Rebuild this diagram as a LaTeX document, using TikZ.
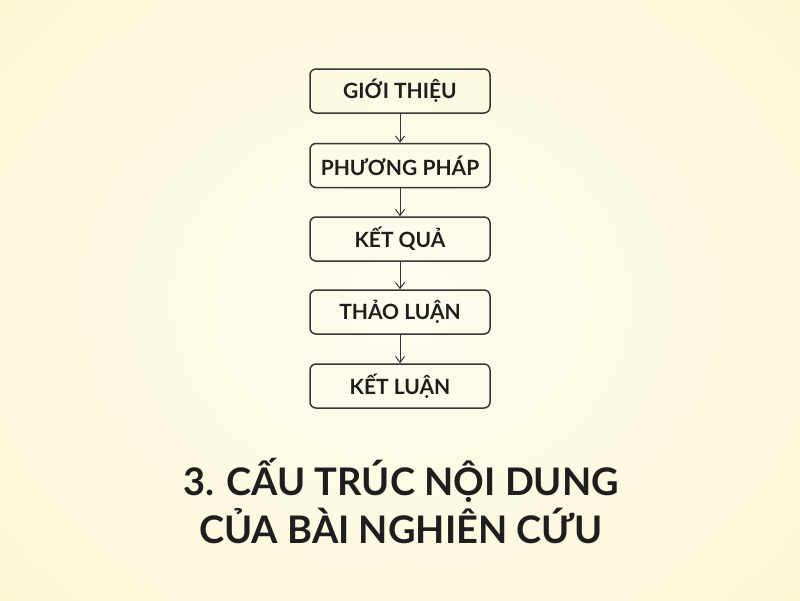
\documentclass[tikz,border=0pt]{standalone}
\usepackage{fontspec}
\setmainfont{Lato}
\usetikzlibrary{arrows.meta}
\definecolor{bgout}{HTML}{FBF6CF}
\definecolor{bgin}{HTML}{FEFCF0}
\definecolor{ink}{HTML}{1E1E1E}
\definecolor{edge}{HTML}{363636}
\tikzset{
  stepbox/.style={draw=edge, line width=1.5pt, rounded corners=6pt,
    minimum width=180pt, minimum height=44pt, inner sep=0pt,
    font=\fontsize{21}{24}\selectfont\bfseries, text=ink},
  flow/.style={draw=edge, line width=1pt, -{Straight Barb[length=6pt,width=9pt,line width=1pt]}},
  titletext/.style={font=\fontsize{38}{44}\selectfont\bfseries, text=ink, inner sep=0pt, anchor=base}
}
\begin{document}
\begin{tikzpicture}[x=1pt,y=1pt]
\useasboundingbox (0,0) rectangle (800,-600);
\shade[inner color=bgin, outer color=bgout] (-250,250) rectangle (1050,-850);
\node[stepbox] (a) at (400,-91) {GIỚI THIỆU};
\node[stepbox] (b) at (400,-165.5) {PHƯƠNG PHÁP};
\node[stepbox] (c) at (400,-239) {KẾT QUẢ};
\node[stepbox] (d) at (400,-312) {THẢO LUẬN};
\node[stepbox] (e) at (400,-386) {KẾT LUẬN};
\draw[flow] (a) -- (b);
\draw[flow] (b) -- (c);
\draw[flow] (c) -- (d);
\draw[flow] (d) -- (e);
\node[titletext] (t1) at (401,-495) {3. CẤU TRÚC NỘI DUNG};
\node[titletext] (t2) at (401,-543) {CỦA BÀI NGHIÊN CỨU};
\end{tikzpicture}
\end{document}
